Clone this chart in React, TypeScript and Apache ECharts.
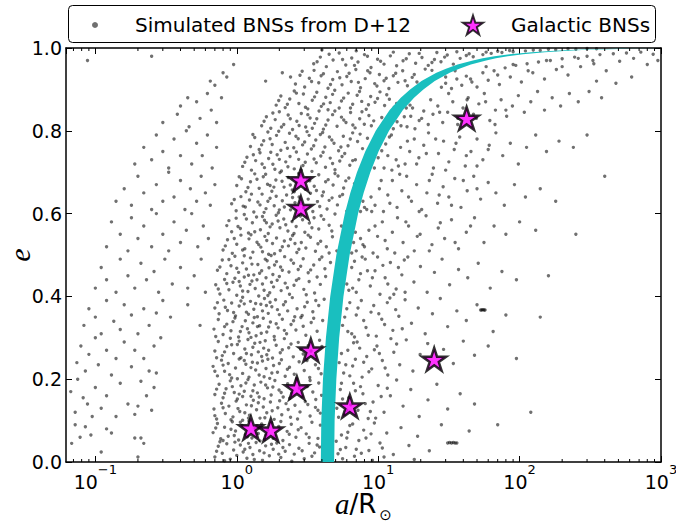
import React, { useEffect, useRef } from "react";
import * as echarts from "echarts";

const FONT = '"DejaVu Sans", sans-serif';
const SERIF = '"Liberation Serif", "DejaVu Serif", serif';
const BAND_COLOR = "#19BFBF";
const STAR =
  "path://M0,-100L22.45,-30.9L95.1,-30.9L36.3,11.8L58.8,80.9L0,38.2L-58.8,80.9L-36.3,11.8L-95.1,-30.9L-22.45,-30.9Z";

const X_MIN = 0.062;
const X_MAX = 1000;
const minorTickValues = [
  0.07, 0.08, 0.09, 0.2, 0.3, 0.4, 0.5, 0.6, 0.7, 0.8, 0.9, 2, 3, 4, 5, 6, 7, 8, 9,
  20, 30, 40, 50, 60, 70, 80, 90, 200, 300, 400, 500, 600, 700, 800, 900,
];

// Galactic BNSs
const galacticA = [1.26, 1.74, 2.66, 2.84, 2.84, 3.34, 6.3, 24.9, 42.2];
const galacticE = [0.082, 0.077, 0.179, 0.614, 0.681, 0.27, 0.135, 0.248, 0.83];

// cyan band (inner / outer edge in a, at eccentricity e)
const bandE = [0, 0.1, 0.2, 0.3, 0.4, 0.5, 0.6, 0.65, 0.7, 0.75, 0.8, 0.85, 0.88, 0.9, 0.92, 0.94, 0.95, 0.96, 0.97, 0.975, 0.98, 0.985, 0.99, 0.993, 0.995, 0.997, 0.998, 0.999];
const bandInnerA = [3.93, 3.96, 4.07, 4.27, 4.58, 5.06, 5.81, 6.35, 7.08, 8.1, 9.61, 12.05, 14.45, 16.81, 20.24, 25.81, 30.15, 36.44, 46.72, 54.8, 66.37, 85.09, 121.3, 165.7, 221.7, 345.3, 492.4, 901];
const bandOuterA = [4.88, 4.92, 5.06, 5.3, 5.68, 6.28, 7.21, 7.89, 8.8, 10.06, 11.93, 14.96, 17.94, 20.87, 25.13, 32.05, 37.44, 45.25, 58.02, 68.04, 82.41, 105.7, 150.6, 205.7, 275.3, 428.8, 611.5, 1000];

// Simulated BNSs: sparse left arm
const simLeft: number[][] = [
  [.068,.045],[.072,.09],[.078,.06],[.085,.085],[.093,.065],[.11,.024],[.12,.08],[.13,.07],[.19,.058],[.21,.058],[.22,.045],[.2,.012],
  [.067,.17],[.072,.12],[.075,.2],[.082,.155],[.088,.14],[.095,.11],[.1,.18],[.11,.13],[.12,.16],[.14,.11],[.15,.19],[.17,.14],[.19,.115],[.2,.135],[.21,.195],[.23,.16],[.25,.125],[.26,.18],
  [.074,.24],[.079,.28],[.085,.22],[.09,.26],[.1,.3],[.105,.235],[.12,.27],[.13,.21],[.14,.25],[.16,.29],[.18,.23],[.19,.27],[.22,.25],[.24,.22],[.26,.28],[.27,.215],[.29,.3],
  [.083,.33],[.09,.37],[.1,.35],[.11,.31],[.12,.39],[.135,.34],[.15,.32],[.16,.38],[.18,.355],[.2,.31],[.22,.37],[.24,.33],[.27,.36],[.3,.39],[.34,.35],[.45,.38],[.55,.33],
  [.1,.42],[.11,.47],[.12,.44],[.14,.41],[.15,.49],[.17,.45],[.19,.42],[.21,.48],[.23,.44],[.26,.46],[.28,.41],[.31,.49],[.35,.43],[.4,.47],[.45,.42],[.5,.45],[.56,.49],[.6,.41],
  [.12,.52],[.13,.58],[.15,.55],[.17,.51],[.18,.59],[.2,.54],[.22,.57],[.25,.52],[.27,.6],[.3,.55],[.33,.51],[.36,.58],[.4,.53],[.44,.56],[.48,.6],[.53,.52],[.58,.57],[.63,.54],
  [.14,.63],[.16,.66],[.18,.62],[.2,.69],[.22,.65],[.25,.61],[.27,.67],[.3,.63],[.33,.7],[.36,.64],[.4,.68],[.43,.61],[.47,.66],[.52,.63],[.56,.69],[.6,.65],[.65,.62],[.7,.67],
  [.19,.72],[.22,.76],[.25,.73],[.27,.79],[.3,.75],[.33,.71],[.36,.78],[.4,.74],[.44,.8],[.48,.72],[.52,.77],[.57,.74],[.62,.79],[.67,.71],[.72,.76],
  [.3,.82],[.4,.86],[.38,.84],[.45,.88],[.46,.81],[.52,.87],[.55,.83],[.62,.89],[.66,.85],[.72,.82],[.78,.88],
  [.65,.92],[.8,.94],[.7,.91],[.95,.96],[.85,.93],[.088,.97],[.25,.98],
];

// Simulated BNSs: dense core, low eccentricity
const simCoreLow: number[][] = [
  [.7,.012],[.74,.038],[.79,.021],[.85,.044],[.9,.007],[.95,.029],[1.0,.016],[1.06,.041],[1.11,.024],[1.18,.009],[1.24,.035],[1.3,.018],[1.37,.047],[1.45,.027],[1.52,.004],[1.6,.039],[1.7,.015],[1.81,.031],[1.92,.046],[2.05,.011],[2.2,.026],[2.36,.042],[2.55,.019],[2.75,.033],[3.0,.008],[3.25,.045],[3.55,.022],[3.85,.036],
  [.68,.071],[.73,.093],[.77,.056],[.82,.084],[.87,.062],[.93,.097],[.98,.075],[1.03,.053],[1.09,.088],[1.15,.066],[1.22,.099],[1.28,.058],[1.35,.081],[1.42,.069],[1.5,.092],[1.57,.054],[1.66,.077],[1.76,.095],[1.86,.063],[1.98,.086],[2.12,.052],[2.27,.074],[2.43,.091],[2.62,.06],[2.85,.083],[3.1,.068],[3.4,.096],[3.75,.057],
  [.69,.128],[.72,.104],[.78,.142],[.83,.117],[.88,.135],[.94,.109],[.99,.147],[1.05,.122],[1.1,.101],[1.17,.138],[1.23,.113],[1.31,.149],[1.38,.126],[1.46,.106],[1.54,.133],[1.63,.119],[1.73,.145],[1.84,.103],[1.95,.131],[2.08,.114],[2.23,.141],[2.4,.108],[2.58,.137],[2.8,.121],[3.05,.146],[3.3,.111],[3.6,.132],[3.9,.118],
  [.7,.163],[.75,.188],[.8,.155],[.84,.177],[.9,.196],[.96,.168],[1.01,.152],[1.07,.184],[1.13,.171],[1.2,.199],[1.26,.159],[1.33,.186],[1.4,.167],[1.48,.193],[1.56,.153],[1.65,.179],[1.75,.162],[1.86,.197],[1.99,.174],[2.13,.157],[2.29,.189],[2.46,.166],[2.66,.195],[2.9,.158],[3.15,.182],[3.45,.169],[3.8,.191],[3.98,.161],
  [.68,.231],[.73,.208],[.78,.246],[.82,.219],[.87,.238],[.92,.203],[.98,.227],[1.04,.249],[1.1,.214],[1.16,.236],[1.22,.205],[1.29,.241],[1.36,.222],[1.44,.21],[1.52,.244],[1.61,.226],[1.71,.202],[1.82,.233],[1.94,.217],[2.07,.247],[2.2,.207],[2.36,.229],[2.55,.212],[2.76,.242],[3.0,.221],[3.28,.204],[3.6,.235],[3.95,.213],
  [.7,.268],[.74,.291],[.79,.257],[.85,.279],[.9,.299],[.95,.262],[1.01,.284],[1.07,.252],[1.14,.273],[1.2,.296],[1.27,.259],[1.34,.287],[1.42,.266],[1.5,.255],[1.59,.293],[1.68,.27],[1.79,.251],[1.9,.282],[2.03,.264],[2.17,.298],[2.33,.276],[2.51,.254],[2.72,.289],[2.95,.261],[3.2,.281],[3.5,.256],[3.85,.294],
  [.69,.321],[.74,.344],[.8,.308],[.85,.333],[.91,.317],[.97,.348],[1.03,.302],[1.09,.327],[1.15,.341],[1.22,.312],[1.3,.336],[1.37,.305],[1.45,.329],[1.54,.347],[1.63,.314],[1.73,.338],[1.84,.303],[1.96,.324],[2.1,.345],[2.25,.31],[2.42,.332],[2.62,.319],[2.84,.349],[3.08,.306],[3.36,.337],[3.7,.316],[4.05,.342],
  [.7,.372],[.75,.358],[.81,.391],[.86,.366],[.92,.384],[.98,.353],[1.04,.377],[1.1,.398],[1.17,.362],[1.25,.388],[1.32,.369],[1.4,.351],[1.48,.381],[1.57,.395],[1.67,.359],[1.77,.375],[1.88,.392],[2.0,.356],[2.14,.38],[2.29,.365],[2.47,.397],[2.67,.37],[2.9,.354],[3.15,.386],[3.45,.363],[3.8,.378],[4.15,.393],
  [.71,.428],[.76,.406],[.82,.441],[.88,.416],[.94,.434],[1.0,.403],[1.06,.425],[1.13,.447],[1.2,.412],[1.28,.437],[1.35,.419],[1.43,.401],[1.52,.43],[1.61,.445],[1.71,.409],[1.82,.423],[1.93,.439],[2.06,.414],[2.2,.432],[2.36,.405],[2.54,.427],[2.75,.443],[2.98,.417],[3.25,.436],[3.55,.408],[3.9,.429],[4.25,.448],
  [.73,.463],[.79,.488],[.85,.455],[.91,.474],[.97,.497],[1.03,.458],[1.1,.481],[1.17,.466],[1.25,.493],[1.32,.452],[1.41,.477],[1.5,.462],[1.59,.49],[1.69,.469],[1.8,.453],[1.91,.484],[2.04,.471],[2.18,.496],[2.34,.459],[2.52,.48],[2.72,.465],[2.95,.491],[3.2,.457],[3.5,.476],[3.85,.489],[4.2,.467],[4.6,.482],
];

// Simulated BNSs: dense core, high eccentricity
const simCoreHigh: number[][] = [
  [.8,.512],[.86,.537],[.93,.504],[1.0,.526],[1.07,.548],[1.14,.515],[1.22,.539],[1.3,.507],[1.39,.531],[1.48,.519],[1.58,.545],[1.68,.502],[1.79,.528],[1.91,.541],[2.03,.511],[2.17,.534],[2.32,.522],[2.48,.547],[2.66,.506],[2.86,.53],[3.08,.517],[3.32,.543],[3.6,.509],[3.92,.533],[4.3,.52],[4.75,.544],[5.1,.51],
  [.85,.571],[.92,.556],[.99,.589],[1.06,.564],[1.13,.598],[1.21,.553],[1.29,.578],[1.38,.592],[1.47,.561],[1.57,.584],[1.67,.552],[1.78,.575],[1.9,.596],[2.02,.566],[2.15,.587],[2.3,.558],[2.46,.581],[2.63,.569],[2.82,.594],[3.03,.555],[3.26,.577],[3.52,.59],[3.8,.563],[4.12,.586],[4.5,.572],[4.95,.599],[5.5,.57],
  [.92,.624],[.99,.607],[1.07,.641],[1.15,.616],[1.23,.633],[1.32,.604],[1.41,.628],[1.51,.647],[1.61,.612],[1.72,.637],[1.84,.619],[1.97,.602],[2.1,.631],[2.25,.645],[2.4,.609],[2.58,.626],[2.76,.64],[2.97,.614],[3.2,.635],[3.45,.605],[3.72,.629],[4.02,.643],[4.35,.611],[4.72,.638],[5.15,.621],[5.6,.646],[6.0,.606],
  [1.0,.668],[1.08,.684],[1.16,.653],[1.25,.677],[1.34,.696],[1.44,.661],[1.54,.689],[1.65,.671],[1.77,.654],[1.89,.681],[2.02,.699],[2.16,.664],[2.31,.687],[2.47,.657],[2.65,.675],[2.84,.692],[3.05,.659],[3.28,.679],[3.53,.666],[3.8,.694],[4.1,.652],[4.43,.682],[4.8,.669],[5.2,.691],[5.7,.662],[6.2,.686],[6.8,.672],
  [1.1,.714],[1.18,.736],[1.27,.705],[1.36,.728],[1.46,.747],[1.57,.711],[1.68,.733],[1.8,.719],[1.93,.742],[2.07,.703],[2.22,.725],[2.38,.738],[2.55,.708],[2.74,.731],[2.94,.716],[3.16,.744],[3.4,.702],[3.65,.723],[3.93,.739],[4.24,.712],[4.58,.734],[4.95,.706],[5.35,.727],[5.8,.745],[6.3,.717],[6.9,.73],[7.5,.709],
  [1.25,.762],[1.34,.784],[1.44,.755],[1.55,.776],[1.66,.797],[1.78,.767],[1.91,.789],[2.05,.753],[2.2,.772],[2.36,.794],[2.53,.759],[2.72,.781],[2.92,.766],[3.14,.798],[3.37,.756],[3.62,.778],[3.9,.791],[4.2,.761],[4.52,.785],[4.87,.77],[5.25,.752],[5.67,.787],[6.12,.764],[6.6,.795],[7.15,.774],[7.75,.757],[8.4,.782],[9.1,.768],
  [1.5,.812],[1.62,.834],[1.74,.806],[1.87,.827],[2.0,.846],[2.15,.815],[2.31,.838],[2.48,.803],[2.66,.823],[2.86,.842],[3.07,.809],[3.3,.831],[3.55,.818],[3.82,.848],[4.1,.804],[4.42,.826],[4.76,.839],[5.12,.811],[5.5,.833],[5.92,.82],[6.38,.844],[6.87,.807],[7.4,.829],[7.98,.816],[8.6,.837],[9.3,.824],[10.2,.805],
  [1.9,.862],[2.05,.884],[2.2,.856],[2.37,.877],[2.55,.896],[2.75,.866],[2.96,.889],[3.18,.853],[3.42,.874],[3.68,.893],[3.96,.859],[4.26,.881],[4.58,.868],[4.93,.898],[5.3,.855],[5.7,.879],[6.14,.891],[6.6,.864],[7.1,.886],[7.65,.871],[8.23,.852],[8.85,.883],[9.5,.869],[10.3,.894],[11.1,.861],[12.0,.876],[13.0,.857],
  [1.6,.92],[2.1,.94],[2.6,.913],[2.8,.934],[3.02,.906],[3.26,.927],[3.52,.946],[3.8,.916],[4.1,.938],[4.42,.903],[4.77,.924],[5.15,.943],[5.55,.911],[6.0,.931],[6.45,.919],[6.95,.948],[7.5,.904],[8.1,.926],[8.75,.94],[9.45,.914],[10.2,.936],[11.0,.921],[11.9,.902],[12.8,.933],[13.8,.917],[14.9,.945],[16.1,.909],[17.4,.929],[18.8,.918],[20.3,.905],
  [3.5,.962],[3.9,.978],[4.3,.955],[4.8,.971],[5.3,.988],[5.9,.959],[6.5,.976],[7.2,.966],[8.0,.984],[8.9,.953],[9.9,.973],[11.0,.961],[12.2,.981],[13.5,.957],[15.0,.969],[16.6,.986],[18.4,.963],[20.4,.977],[22.6,.958],[25.0,.972],[27.8,.967],[30.8,.983],[34.0,.961],[38.0,.975],[42,.982],[47,.979],[55,.984],[63,.987],[75,.989],[90,.991],[110,.993],[140,.994],[180,.996],[250,.997],[350,.998],
];

// Simulated BNSs: further points filling the dense core
const simCoreExtra: number[][] = [
  [.72,.026],[.82,.003],[.97,.048],[1.14,.031],[1.33,.006],[1.56,.022],[1.76,.043],[2.12,.035],[2.45,.002],[2.9,.027],[3.4,.014],[.76,.049],[1.21,.045],[1.98,.019],[3.7,.041],
  [.71,.082],[.8,.052],[.91,.079],[1.06,.096],[1.19,.061],[1.39,.087],[1.62,.065],[1.81,.057],[2.05,.098],[2.35,.067],[2.72,.078],[3.25,.059],[3.9,.089],[1.46,.051],[.96,.064],
  [.7,.112],[.8,.131],[.91,.102],[1.02,.129],[1.14,.119],[1.27,.136],[1.42,.143],[1.58,.107],[1.78,.124],[2.01,.148],[2.31,.127],[2.69,.104],[3.18,.139],[3.75,.125],[1.21,.106],
  [.72,.176],[.82,.166],[.93,.182],[1.04,.164],[1.16,.191],[1.3,.172],[1.44,.157],[1.6,.186],[1.8,.181],[2.06,.168],[2.37,.154],[2.77,.178],[3.3,.197],[3.62,.151],[1.1,.158],
  [.7,.219],[.8,.234],[.89,.211],[1.01,.201],[1.13,.245],[1.26,.228],[1.4,.239],[1.56,.206],[1.77,.215],[2.0,.238],[2.28,.224],[2.65,.201],[3.14,.245],[3.78,.226],[1.66,.248],
  [.72,.252],[.82,.266],[.92,.283],[1.04,.292],[1.17,.262],[1.3,.277],[1.46,.289],[1.63,.259],[1.85,.295],[2.1,.271],[2.42,.285],[2.83,.272],[3.35,.268],[4.0,.279],[1.55,.275],
  [.71,.303],[.82,.327],[.94,.339],[1.06,.315],[1.19,.322],[1.33,.349],[1.49,.311],[1.68,.326],[1.9,.334],[2.17,.318],[2.52,.341],[2.95,.328],[3.5,.347],[1.4,.327],[1.26,.301],
  [.73,.385],[.83,.374],[.95,.361],[1.07,.389],[1.21,.357],[1.36,.383],[1.52,.365],[1.72,.386],[1.94,.368],[2.21,.387],[2.57,.351],[3.02,.375],[3.62,.39],[1.62,.378],[1.13,.382],
  [.74,.418],[.85,.431],[.97,.444],[1.1,.413],[1.24,.429],[1.39,.44],[1.56,.415],[1.76,.434],[2.0,.448],[2.28,.421],[2.64,.439],[3.1,.404],[3.7,.447],[1.66,.402],[1.04,.436],
  [.76,.471],[.88,.489],[1.0,.468],[1.13,.498],[1.28,.478],[1.45,.456],[1.64,.486],[1.85,.476],[2.1,.463],[2.42,.488],[2.83,.473],[3.33,.464],[4.0,.495],[1.75,.499],[1.21,.451],
  [.83,.522],[.96,.54],[1.1,.512],[1.26,.549],[1.43,.525],[1.63,.535],[1.85,.503],[2.1,.52],[2.4,.538],[2.75,.514],[3.2,.548],[3.75,.527],[4.5,.505],[1.52,.508],[2.58,.528],
  [.88,.583],[1.02,.569],[1.17,.587],[1.34,.556],[1.52,.593],[1.72,.568],[1.96,.582],[2.22,.573],[2.54,.552],[2.92,.585],[3.4,.566],[3.95,.595],[4.7,.558],[1.62,.578],[2.72,.598],
  [.96,.634],[1.11,.618],[1.27,.647],[1.46,.621],[1.66,.63],[1.9,.642],[2.17,.616],[2.48,.639],[2.86,.625],[3.32,.649],[3.86,.617],[4.5,.632],[5.35,.642],[2.0,.609],[1.56,.603],
  [1.04,.689],[1.2,.663],[1.39,.683],[1.6,.695],[1.83,.664],[2.09,.678],[2.39,.669],[2.74,.697],[3.16,.684],[3.66,.656],[4.25,.677],[4.95,.697],[5.9,.679],[2.55,.653],[1.72,.668],
  [1.14,.724],[1.31,.742],[1.51,.72],[1.74,.748],[2.0,.731],[2.3,.713],[2.64,.749],[3.05,.724],[3.52,.732],[4.08,.748],[4.76,.721],[5.55,.738],[6.6,.728],[2.85,.705],[1.86,.707],
  [1.3,.791],[1.5,.766],[1.72,.781],[1.98,.799],[2.28,.758],[2.62,.787],[3.02,.773],[3.5,.764],[4.05,.796],[4.7,.778],[5.45,.761],[6.35,.78],[7.45,.792],[8.75,.751],[3.25,.789],
  [1.56,.823],[1.8,.843],[2.07,.809],[2.39,.829],[2.76,.813],[3.18,.839],[3.68,.829],[4.26,.814],[4.94,.848],[5.71,.826],[6.62,.814],[7.68,.846],[8.95,.812],[10.6,.832],[3.42,.806],
  [1.98,.873],[2.28,.864],[2.64,.891],[3.06,.857],[3.55,.882],[4.11,.865],[4.76,.888],[5.5,.872],[6.37,.855],[7.38,.895],[8.54,.863],[9.9,.878],[11.5,.887],[13.5,.866],[4.42,.851],
  [2.4,.93],[2.9,.944],[3.38,.919],[3.95,.933],[4.6,.912],[5.35,.928],[6.23,.939],[7.25,.917],[8.43,.945],[9.8,.908],[11.4,.927],[13.3,.939],[15.5,.921],[18.0,.936],[21.5,.949],[24,.946],
  [3.7,.967],[4.5,.985],[5.6,.972],[6.8,.958],[8.4,.98],[10.4,.968],[12.8,.99],[15.8,.974],[19.5,.987],[24,.965],[29.5,.978],[36,.991],[44,.986],[58,.99],[70,.992],[85,.994],[125,.995],[160,.997],[220,.998],[300,.999],[4.0,.995],[7.0,.993],[26,.989],
];

// Simulated BNSs: right of the band, low eccentricity
const simRightLow: number[][] = [
  [5.2,.02],[5.5,.065],[5.9,.035],[6.3,.088],[6.8,.014],[7.3,.052],[7.9,.077],[8.6,.028],[9.4,.094],[10.3,.046],[11.5,.07],[12.8,.018],[14.5,.083],[16.5,.04],[19,.062],[23,.027],[28,.09],[18,.006],[44,.075],[9.1,.004],
  [5.05,.05],[5.6,.008],[6.1,.072],[7.0,.031],[8.2,.058],[11,.012],
  [5.4,.03],[6.0,.058],[6.6,.092],[7.6,.021],[8.9,.068],[10.7,.034],
  [31,.046],[32,.047],[33,.046],[34,.047],[35,.046],[36,.046],
  [5.1,.13],[5.4,.175],[5.8,.115],[6.2,.155],[6.7,.19],[7.2,.125],[7.8,.165],[8.5,.105],[9.2,.145],[10,.185],[11,.12],[12.2,.16],[13.5,.198],[15,.135],[17,.175],[19.5,.11],[22.5,.15],[26,.188],[31,.128],[38,.165],[48,.14],
  [5.25,.108],[5.6,.152],[6.4,.138],[7.5,.182],[8.8,.122],[10.5,.158],
  [5.5,.19],[6.0,.125],[6.9,.172],[8.1,.141],[9.6,.106],[11.6,.178],
  [5.3,.24],[5.7,.215],[6.1,.27],[6.6,.232],[7.1,.29],[7.7,.205],[8.3,.255],[9,.225],[9.8,.28],[10.7,.245],[11.7,.21],[12.9,.265],[14.2,.235],[15.8,.295],[17.6,.22],[19.8,.26],[22.4,.286],[29,.272],[34,.238],[40,.292],[48,.258],[60,.28],
  [5.5,.262],[6.3,.208],[6.9,.248],[7.4,.275],[8.6,.218],[10.2,.262],[12.3,.298],
  [5.9,.235],[6.7,.288],[7.9,.241],[9.4,.271],[11.2,.227],[13.5,.285],
  [5.6,.33],[6.0,.37],[6.5,.31],[7.0,.355],[7.6,.39],[8.2,.325],[8.9,.362],[9.7,.304],[10.6,.345],[11.6,.385],[12.7,.318],[14,.352],[15.5,.392],[17.2,.335],[19.2,.372],[21.5,.31],[24.2,.358],[27.5,.395],[31,.327],[36,.365],[42,.342],[50,.38],[65,.315],[80,.355],
  [5.8,.35],[6.3,.385],[6.8,.302],[7.9,.342],[9.3,.378],[11.1,.332],[13.3,.368],
  [6.1,.315],[7.2,.372],[8.5,.306],[10.1,.358],[12.1,.396],[14.8,.322],
  [53,.367],[54,.367],[55,.368],[56,.367],[57,.367],
  [6.0,.43],[6.5,.47],[7.0,.41],[7.5,.455],[8.1,.49],[8.8,.425],[9.5,.462],[10.3,.405],[11.2,.445],[12.2,.482],[13.4,.418],[14.7,.452],[16.2,.495],[17.9,.435],[19.9,.472],[22.2,.41],[25,.458],[28.3,.49],[32,.428],[37,.465],[43,.445],[51,.48],[62,.42],[75,.46],[95,.44],
  [6.2,.415],[6.8,.485],[7.3,.44],[8.4,.462],[9.9,.495],[11.7,.43],[13.9,.47],[15.5,.41],
  [6.6,.42],[7.7,.495],[9.1,.445],[10.8,.475],[12.9,.405],[15.3,.488],
  [400,.69],[250,.55],[160,.45],[140,.35],[95,.25],[120,.12],[70,.09],
];

// Simulated BNSs: right of the band, high eccentricity
const simRightHigh: number[][] = [
  [6.5,.505],[6.7,.53],[6.9,.555],[7.5,.605],[7.8,.63],[8.0,.615],
  [9.4,.71],[10.0,.735],[10.6,.752],[11.3,.768],[12.4,.79],
  [12.8,.805],[13.6,.822],[14.5,.812],[15.3,.834],[15.8,.855],[16.8,.862],
  [7.0,.51],[7.5,.54],[8.0,.52],[8.6,.56],[9.2,.505],[9.9,.545],[10.7,.58],[11.6,.515],[12.6,.555],[13.7,.59],[15,.53],[16.4,.57],[18,.51],[19.8,.55],[21.8,.595],[24,.525],[26.6,.565],[29.5,.54],[33,.585],[37,.515],[42,.555],[48,.59],[56,.53],[66,.57],[80,.55],[100,.58],[130,.56],
  [7.8,.525],[9.5,.57],[11.2,.535],[13.1,.505],[15.7,.58],[18.9,.545],[23,.51],[27.5,.578],[35,.53],[45,.57],
  [8.3,.61],[8.9,.64],[9.5,.62],[10.2,.66],[10.9,.605],[11.7,.645],[12.6,.68],[13.6,.615],[14.7,.655],[15.9,.69],[17.2,.63],[18.7,.67],[20.3,.61],[22.1,.65],[24.1,.695],[26.3,.625],[28.8,.665],[31.6,.64],[34.8,.685],[38.5,.615],[42.6,.655],[47.4,.69],[53,.635],[60,.675],[68,.65],[78,.62],[92,.67],[110,.64],[140,.66],[180,.63],
  [9.0,.605],[10.5,.68],[12.1,.625],[14.2,.695],[16.4,.64],[19.5,.605],[23,.68],[27,.645],[33,.62],[40,.68],[50,.66],
  [11,.71],[11.7,.74],[12.5,.705],[13.4,.73],[14.4,.76],[15.5,.72],[16.7,.75],[18,.78],[19.4,.735],[21,.765],[22.7,.795],[24.6,.71],[26.7,.745],[29,.775],[31.6,.725],[34.5,.755],[37.7,.785],[41.3,.715],[45.3,.75],[50,.78],[55,.73],[61,.765],[68,.795],[76,.74],[86,.77],[98,.72],[112,.76],[130,.79],[155,.75],[190,.775],[240,.76],[300,.79],
  [12,.785],[13.9,.715],[16.1,.775],[18.7,.72],[21.9,.745],[25.5,.78],[30,.705],[35.5,.77],[42,.74],[50,.715],[60,.755],
  [16,.81],[17,.835],[18.2,.805],[19.5,.825],[21,.848],[22.6,.815],[24.4,.84],[26.4,.86],[28.6,.82],[31,.845],[33.7,.87],[36.6,.83],[39.8,.855],[43.3,.88],[47.2,.84],[51.5,.865],[56.3,.89],[61.6,.825],[67.5,.85],[74,.875],[81,.835],[89,.86],[98,.885],[108,.845],[120,.87],[134,.895],[150,.85],[170,.88],[195,.86],[225,.89],[260,.87],[310,.895],[380,.88],
  [17.5,.855],[20.3,.83],[23.5,.875],[27.2,.845],[31.5,.89],[36.5,.815],[42.5,.875],[49.5,.83],[57.5,.87],[67,.815],[80,.85],
  [28,.905],[30,.915],[33,.902],[36,.925],[39,.91],[42,.932],[46,.918],[50,.906],[55,.94],[60,.922],[66,.945],[72,.912],[79,.952],[86,.93],[94,.958],[103,.918],[113,.962],[124,.94],[136,.966],[150,.925],[165,.97],[182,.948],[200,.974],[220,.935],[245,.978],[270,.955],[300,.98],[335,.962],[370,.984],[410,.945],[460,.986],[510,.968],[570,.988],[640,.975],[720,.99],[800,.96],[880,.985],[950,.97],[620,.93],[480,.915],[350,.92],
  [30,.93],[35,.945],[45,.925],[58,.955],[70,.935],[90,.96],[115,.945],[155,.97],[200,.955],[260,.975],[330,.97],
];

const SIM_NAME = "Simulated BNSs from D+12";
const GAL_NAME = "Galactic BNSs";

export default function App() {
  const ref = useRef<HTMLDivElement>(null);
  useEffect(() => {
    if (!ref.current) return;
    const chart = echarts.init(ref.current, null, { renderer: "svg" });
    const simData = [...simLeft, ...simCoreLow, ...simCoreHigh, ...simCoreExtra, ...simRightLow, ...simRightHigh];
    const galData = galacticA.map((a, i) => [a, galacticE[i]]);
    const bandData = bandE.map((e, i) => [bandInnerA[i], bandOuterA[i], e]);
    const minorData = minorTickValues.map((v) => [v, 0]);

    const axisLine = { show: true, onZero: false, lineStyle: { color: "#000", width: 1.5 } };
    const tick = { show: true, inside: true, length: 6, lineStyle: { color: "#000", width: 1 } };

    chart.setOption({
      animation: false,
      backgroundColor: "#fff",
      grid: { left: 66, right: 15, top: 48, bottom: 63, containLabel: false, outerBoundsMode: "none" },
      graphic: [
        {
          type: "rect",
          z: 0,
          shape: { x: 68.5, y: 5.5, width: 587, height: 37, r: 4 },
          style: { fill: "#fff", stroke: "#000", lineWidth: 1 },
        },
      ],
      legend: [
        {
          data: [{ name: SIM_NAME, icon: "circle" }],
          left: 92,
          top: 13,
          padding: 0,
          itemWidth: 6,
          itemHeight: 6,
          selectedMode: false,
          textStyle: { fontFamily: FONT, fontSize: 20, color: "#000", lineHeight: 24, padding: [0, 0, 0, 32] },
        },
        {
          data: [{ name: GAL_NAME, icon: STAR }],
          left: 462,
          top: 13,
          padding: 0,
          itemWidth: 20,
          itemHeight: 20,
          selectedMode: false,
          textStyle: { fontFamily: FONT, fontSize: 20, color: "#000", lineHeight: 24, padding: [0, 0, 0, 23] },
        },
      ],
      xAxis: [
        {
          type: "log",
          logBase: 10,
          min: X_MIN,
          max: X_MAX,
          position: "bottom",
          axisLine,
          axisTick: tick,
          splitLine: { show: false },
          axisLabel: {
            showMinLabel: false,
            margin: 1,
            formatter: (v: number) => {
              const p = Math.round(Math.log10(v));
              return "{b|10}{s|" + (p < 0 ? "\u2212" + -p : String(p)) + "}";
            },
            rich: {
              b: { fontFamily: FONT, fontSize: 19, color: "#000", lineHeight: 28, verticalAlign: "bottom" },
              s: { fontFamily: FONT, fontSize: 13, color: "#000", lineHeight: 16, verticalAlign: "top" },
            },
          },
          name: "{i|a}{r|/R}{o|\u2299}",
          nameLocation: "middle",
          nameGap: 24,
          nameMoveOverlap: false,
          nameTextStyle: {
            rich: {
              i: { fontFamily: SERIF, fontStyle: "italic", fontSize: 29, color: "#000", lineHeight: 36 },
              r: { fontFamily: FONT, fontSize: 26, color: "#000", lineHeight: 36 },
              o: { fontFamily: FONT, fontSize: 15, color: "#000", lineHeight: 16, verticalAlign: "bottom", padding: [0, 0, 0, 3] },
            },
          },
        },
        {
          type: "log",
          logBase: 10,
          min: X_MIN,
          max: X_MAX,
          position: "top",
          axisLine,
          axisTick: tick,
          axisLabel: { show: false },
          splitLine: { show: false },
        },
      ],
      yAxis: [
        {
          type: "value",
          min: 0,
          max: 1,
          interval: 0.2,
          position: "left",
          axisLine,
          axisTick: tick,
          splitLine: { show: false },
          axisLabel: {
            margin: 4,
            color: "#000",
            fontFamily: FONT,
            fontSize: 19,
            formatter: (v: number) => v.toFixed(1),
          },
          name: "e",
          nameLocation: "middle",
          nameGap: 32,
          nameMoveOverlap: false,
          nameTextStyle: { fontFamily: SERIF, fontStyle: "italic", fontSize: 30, color: "#000" },
        },
        {
          type: "value",
          min: 0,
          max: 1,
          interval: 0.2,
          position: "right",
          axisLine,
          axisTick: tick,
          axisLabel: { show: false },
          splitLine: { show: false },
        },
      ],
      series: [
        {
          name: SIM_NAME,
          type: "scatter",
          data: simData,
          symbol: "circle",
          symbolSize: 3.4,
          itemStyle: { color: "rgba(0,0,0,0.7)" },
          z: 2,
        },
        {
          name: "band",
          type: "custom",
          data: bandData,
          encode: { x: [0, 1], y: 2 },
          z: 3,
          silent: true,
          renderItem: (params: any, api: any) => {
            if (params.dataIndexInside !== 0) return null;
            const n = bandE.length;
            const pts: number[][] = [];
            for (let i = 0; i < n; i++) pts.push(api.coord([api.value(0, i), api.value(2, i)]));
            for (let i = n - 1; i >= 0; i--) pts.push(api.coord([api.value(1, i), api.value(2, i)]));
            return { type: "polygon", shape: { points: pts }, style: { fill: BAND_COLOR } };
          },
        },
        {
          name: GAL_NAME,
          type: "scatter",
          data: galData,
          symbol: STAR,
          symbolSize: 24,
          symbolKeepAspect: true,
          itemStyle: { color: "#ff00ff", borderColor: "#000", borderWidth: 2.5 },
          z: 5,
        },
        {
          name: "minorTicks",
          type: "custom",
          data: minorData,
          encode: { x: 0, y: 1 },
          z: 6,
          silent: true,
          renderItem: (params: any, api: any) => {
            const x = api.coord([api.value(0), 0])[0];
            const cs = params.coordSys;
            const yb = cs.y + cs.height;
            const yt = cs.y;
            return {
              type: "group",
              children: [
                { type: "line", shape: { x1: x, y1: yb, x2: x, y2: yb - 3 }, style: { stroke: "#000", lineWidth: 1 } },
                { type: "line", shape: { x1: x, y1: yt, x2: x, y2: yt + 3 }, style: { stroke: "#000", lineWidth: 1 } },
              ],
            };
          },
        },
      ],
    });
    return () => chart.dispose();
  }, []);
  return <div ref={ref} style={{ position: "fixed", left: 0, top: 0, width: 676, height: 525 }} />;
}
